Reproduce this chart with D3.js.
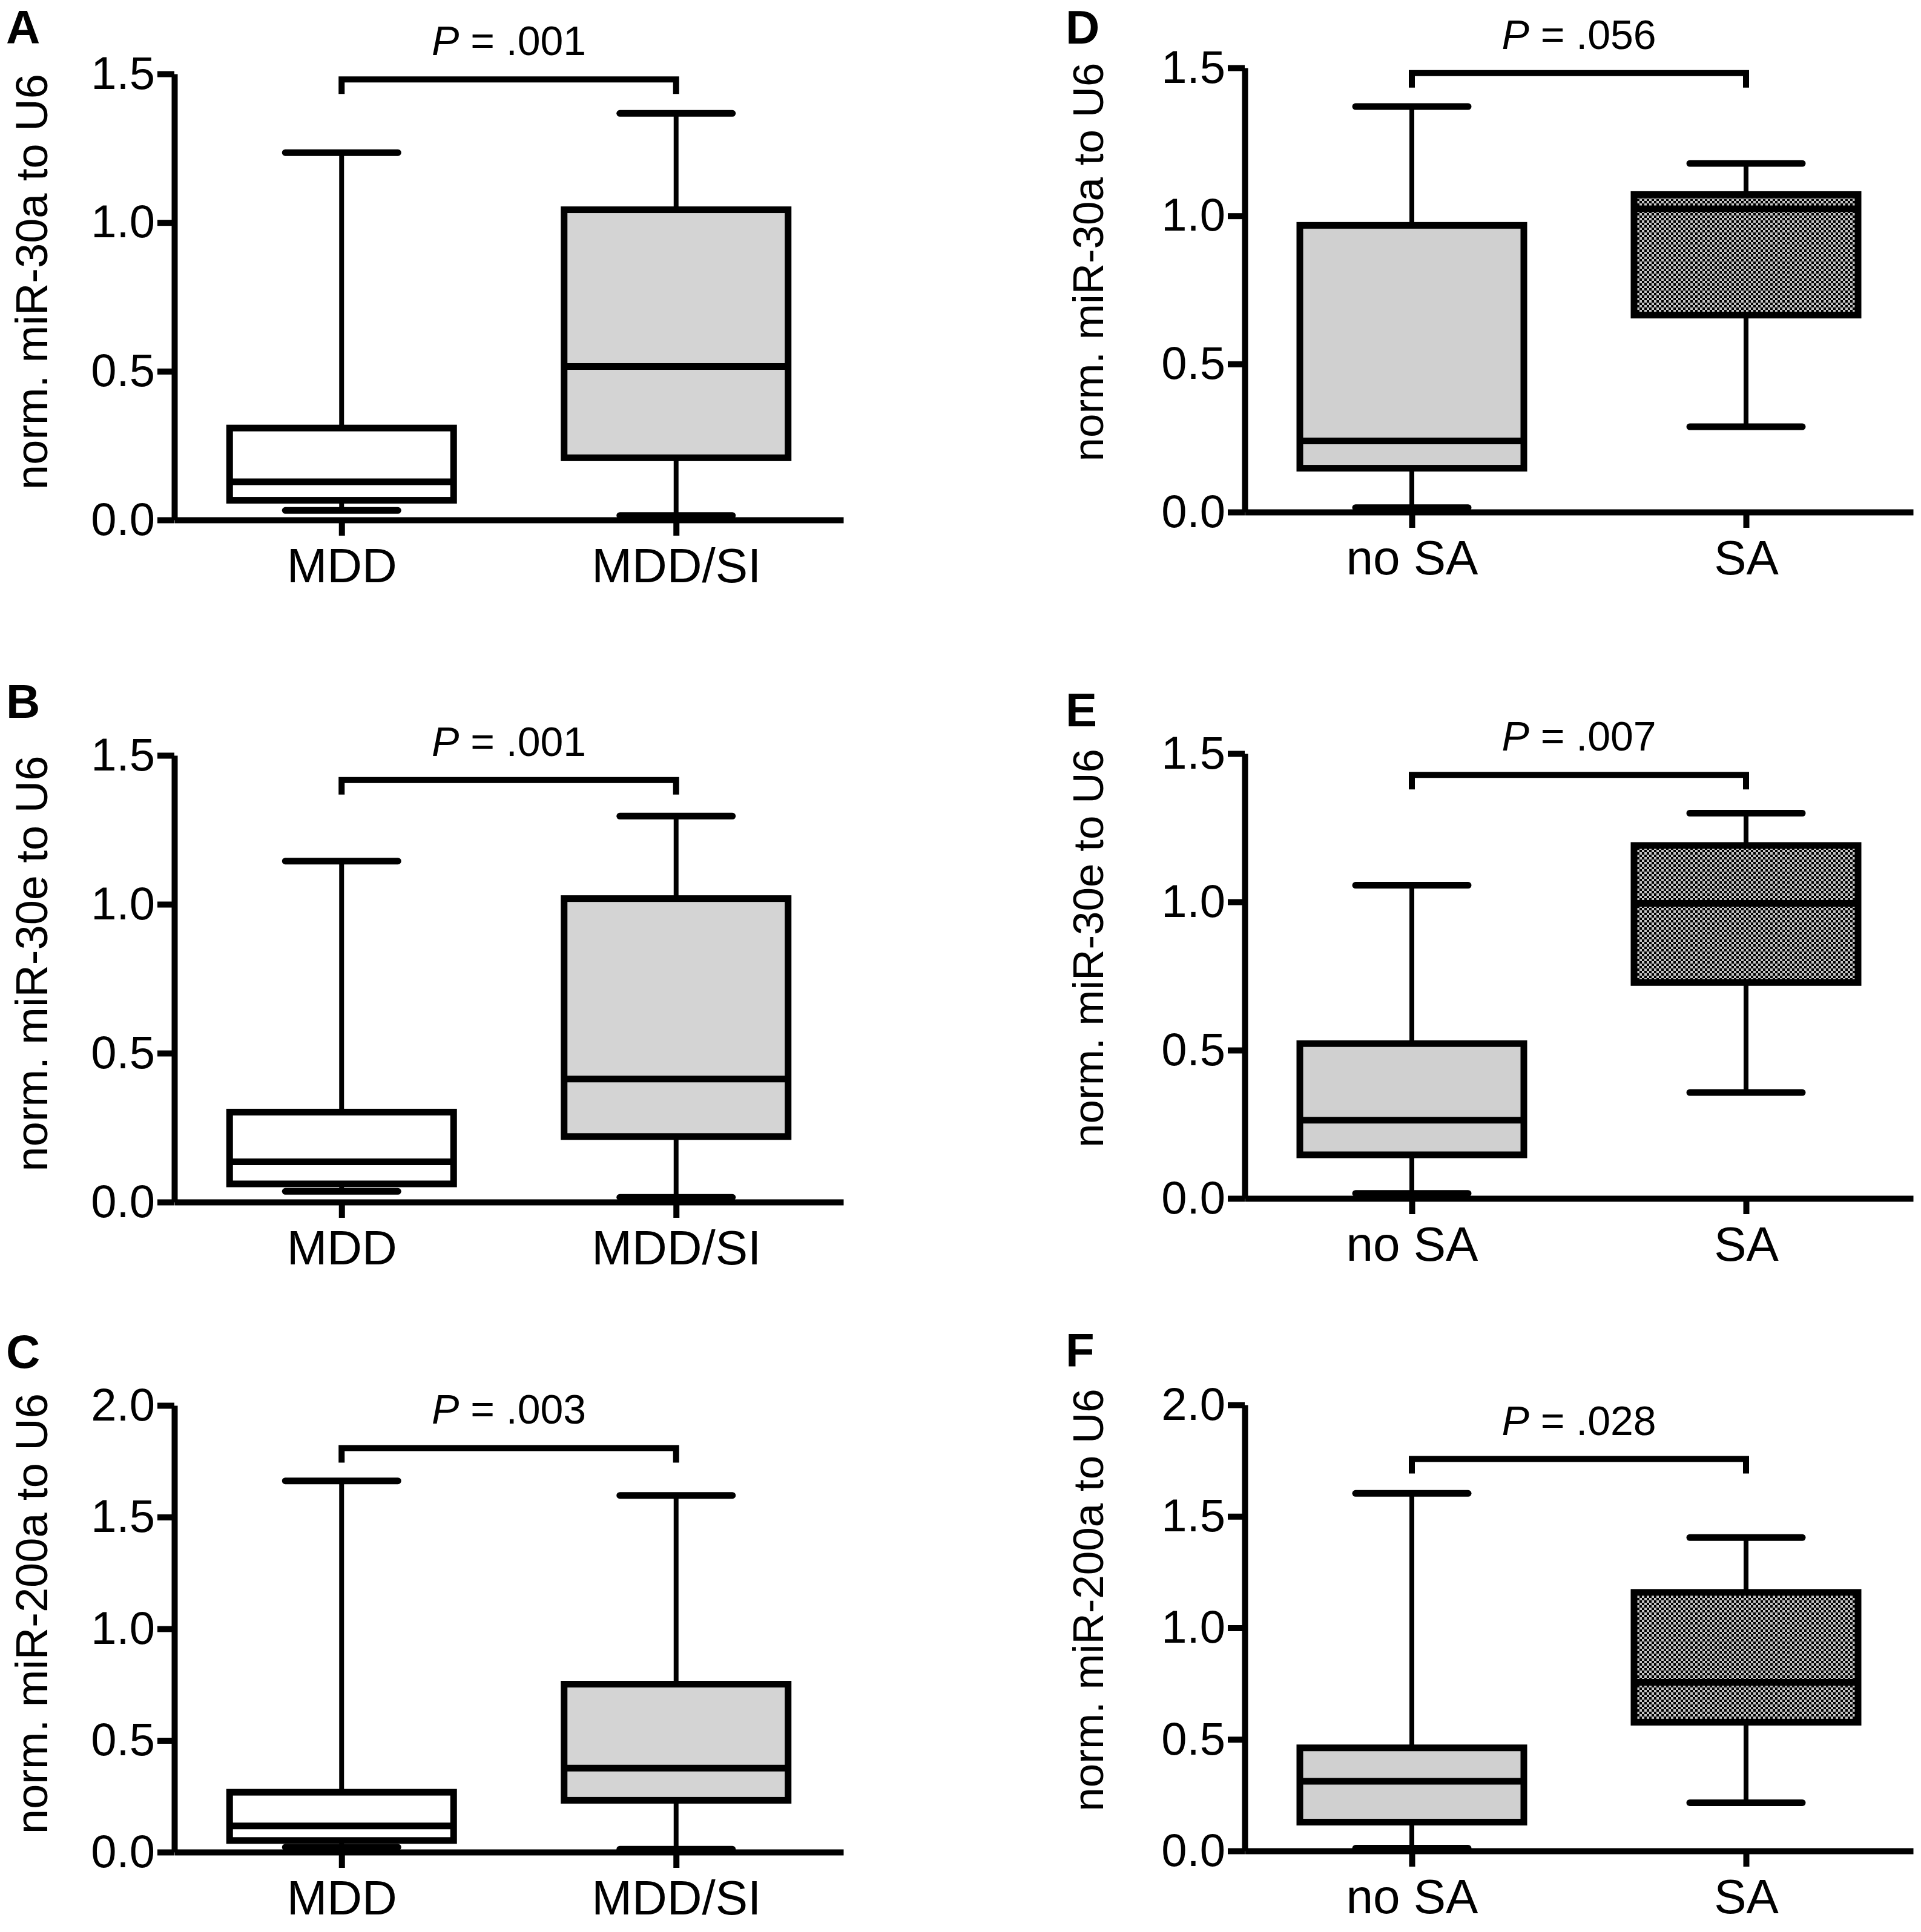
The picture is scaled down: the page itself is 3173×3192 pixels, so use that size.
<!DOCTYPE html>
<html>
<head>
<meta charset="utf-8">
<script src="https://cdn.jsdelivr.net/npm/d3@7"></script>
<style>
  body { margin: 0; background: #fff; }
  text { font-family: "Liberation Sans", Arial, sans-serif; fill: #000; }
</style>
</head>
<body>
<div id="chart"></div>
<script>
// Data
var groupsLeft = ['MDD', 'MDD/SI'];
var groupsRight = ['no SA', 'SA'];
var panelLetters = ['A', 'B', 'C', 'D', 'E', 'F'];
var yTitles = [
    'norm. miR-30a to U6', 'norm. miR-30e to U6', 'norm. miR-200a to U6',
    'norm. miR-30a to U6', 'norm. miR-30e to U6', 'norm. miR-200a to U6'
];
var pValues = ['.001', '.001', '.003', '.056', '.007', '.028'];
var ticks15 = [0, 0.5, 1.0, 1.5];
var ticks20 = [0, 0.5, 1.0, 1.5, 2.0];
var bracketLevels = [1.481, 1.417, 1.809, 1.482, 1.428, 1.757];

// [min, q1, median, q3, max] per group
var boxA = [[0.032, 0.066, 0.128, 0.309, 1.235], [0.015, 0.209, 0.516, 1.043, 1.367]];
var boxB = [[0.036, 0.061, 0.135, 0.302, 1.145], [0.016, 0.220, 0.413, 1.019, 1.296]];
var boxC = [[0.022, 0.052, 0.117, 0.268, 1.662], [0.013, 0.232, 0.376, 0.752, 1.597]];
var boxD = [[0.015, 0.148, 0.240, 0.968, 1.369], [0.288, 0.665, 1.024, 1.072, 1.177]];
var boxE = [[0.017, 0.147, 0.264, 0.522, 1.056], [0.357, 0.728, 0.995, 1.190, 1.299]];
var boxF = [[0.012, 0.129, 0.312, 0.462, 1.603], [0.216, 0.577, 0.756, 1.159, 1.405]];

var W = 3173, H = 3192;
var svg = d3.select('#chart').append('svg')
    .attr('width', W)
    .attr('height', H);

// checker fill for the SA boxes
var pat = svg.append('defs').append('pattern')
    .attr('id', 'checker')
    .attr('patternUnits', 'userSpaceOnUse')
    .attr('width', 8)
    .attr('height', 8);
pat.append('rect').attr('width', 8).attr('height', 8).attr('fill', '#c6c6c6');
pat.append('rect').attr('x', 0).attr('y', 0).attr('width', 4).attr('height', 4).attr('fill', '#000');
pat.append('rect').attr('x', 4).attr('y', 4).attr('width', 4).attr('height', 4).attr('fill', '#000');

var cols = [
    { axisX: 288, endX: 1393, groups: groupsLeft, fills: ['#ffffff', '#d4d4d4'], titleX: 78, titleShift: -25, titleSize: 74, letterX: 10 },
    { axisX: 2056, endX: 3160, groups: groupsRight, fills: ['#d0d0d0', 'url(#checker)'], titleX: 1822, titleShift: -46, titleSize: 71, letterX: 1760 }
];
var panels = [
    { col: 0, top: 122, bottom: 859, ticks: ticks15, boxes: boxA, letterY: 72 },
    { col: 0, top: 1248, bottom: 1986, ticks: ticks15, boxes: boxB, letterY: 1186 },
    { col: 0, top: 2322, bottom: 3060, ticks: ticks20, boxes: boxC, letterY: 2260 },
    { col: 1, top: 112, bottom: 846, ticks: ticks15, boxes: boxD, letterY: 72 },
    { col: 1, top: 1245, bottom: 1980, ticks: ticks15, boxes: boxE, letterY: 1200 },
    { col: 1, top: 2321, bottom: 3058, ticks: ticks20, boxes: boxF, letterY: 2258 }
];

var boxW = 370, capW = 186;

panels.forEach(function (p, i) {
    var c = cols[p.col];
    var g = svg.append('g');

    var y = d3.scaleLinear()
        .domain([0, d3.max(p.ticks)])
        .range([p.bottom, p.top]);
    var x = d3.scalePoint()
        .domain(c.groups)
        .range([c.axisX, c.endX])
        .padding(0.5);

    // boxes
    var box = g.selectAll('g.box')
        .data(p.boxes)
        .enter()
        .append('g')
        .attr('class', 'box');

    box.append('line')
        .attr('x1', function (d, j) { return x(c.groups[j]); })
        .attr('x2', function (d, j) { return x(c.groups[j]); })
        .attr('y1', function (d) { return y(d[0]); })
        .attr('y2', function (d) { return y(d[4]); })
        .attr('stroke', '#000')
        .attr('stroke-width', 8);

    [0, 4].forEach(function (k) {
        box.append('line')
            .attr('x1', function (d, j) { return x(c.groups[j]) - capW / 2; })
            .attr('x2', function (d, j) { return x(c.groups[j]) + capW / 2; })
            .attr('y1', function (d) { return y(d[k]); })
            .attr('y2', function (d) { return y(d[k]); })
            .attr('stroke', '#000')
            .attr('stroke-width', 11)
            .attr('stroke-linecap', 'round');
    });

    box.append('rect')
        .attr('x', function (d, j) { return x(c.groups[j]) - boxW / 2; })
        .attr('y', function (d) { return y(d[3]); })
        .attr('width', boxW)
        .attr('height', function (d) { return y(d[1]) - y(d[3]); })
        .attr('fill', function (d, j) { return c.fills[j]; })
        .attr('stroke', '#000')
        .attr('stroke-width', 11);

    box.append('line')
        .attr('x1', function (d, j) { return x(c.groups[j]) - boxW / 2; })
        .attr('x2', function (d, j) { return x(c.groups[j]) + boxW / 2; })
        .attr('y1', function (d) { return y(d[2]); })
        .attr('y2', function (d) { return y(d[2]); })
        .attr('stroke', '#000')
        .attr('stroke-width', 11);

    // axes
    var yAxis = g.append('g')
        .attr('transform', 'translate(' + c.axisX + ',0)')
        .call(d3.axisLeft(y).tickValues(p.ticks).tickFormat(d3.format('.1f'))
            .tickSize(28).tickSizeOuter(0).tickPadding(4));
    yAxis.selectAll('text')
        .attr('font-size', 76)
        .attr('font-family', '"Liberation Sans", Arial, sans-serif');

    var xAxis = g.append('g')
        .attr('transform', 'translate(0,' + p.bottom + ')')
        .call(d3.axisBottom(x).tickSize(26).tickSizeOuter(0).tickPadding(20));
    xAxis.selectAll('text')
        .attr('font-size', 80)
        .attr('font-family', '"Liberation Sans", Arial, sans-serif');

    g.selectAll('.domain').attr('stroke-width', 10);
    g.selectAll('.tick line').attr('stroke-width', 10);

    // significance bracket
    var by = y(bracketLevels[i]);
    var xa = x(c.groups[0]), xb = x(c.groups[1]);
    g.append('path')
        .attr('d', 'M' + xa + ',' + (by + 24) + 'V' + by + 'H' + xb + 'V' + (by + 24))
        .attr('fill', 'none')
        .attr('stroke', '#000')
        .attr('stroke-width', 10)
        .attr('stroke-linejoin', 'miter');

    var pt = g.append('text')
        .attr('x', (xa + xb) / 2)
        .attr('y', by - 40)
        .attr('text-anchor', 'middle')
        .attr('font-size', 68);
    pt.append('tspan').attr('font-style', 'italic').text('P');
    pt.append('tspan').text(' = ' + pValues[i]);

    // y title
    var midY = (p.top + p.bottom) / 2 + c.titleShift;
    g.append('text')
        .attr('transform', 'translate(' + c.titleX + ',' + midY + ') rotate(-90)')
        .attr('text-anchor', 'middle')
        .attr('font-size', c.titleSize)
        .text(yTitles[i]);

    // panel letter
    g.append('text')
        .attr('x', c.letterX)
        .attr('y', p.letterY)
        .attr('font-size', 78)
        .attr('font-weight', 'bold')
        .text(panelLetters[i]);
});
</script>
</body>
</html>
